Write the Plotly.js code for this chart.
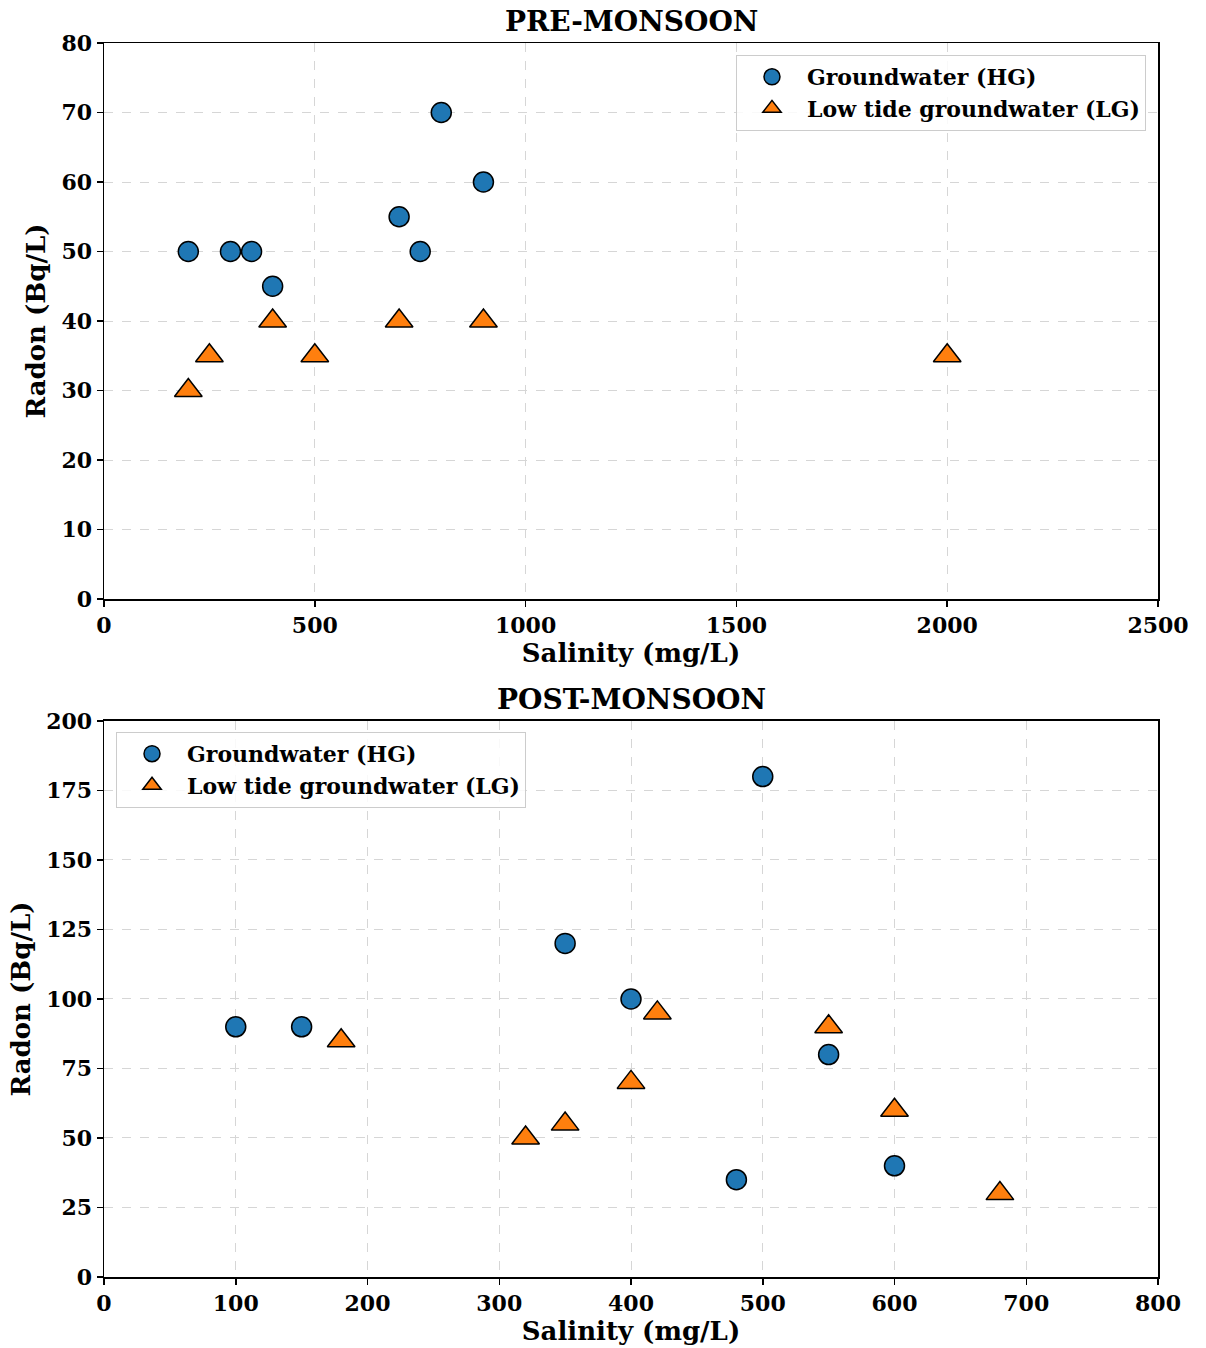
<!DOCTYPE html>
<html>
<head>
<meta charset="utf-8">
<script src="https://cdn.plot.ly/plotly-3.0.1.min.js"></script>
<style>html,body{margin:0;padding:0;background:#fff;}#chart{width:1206px;height:1348px;}</style>
</head>
<body>
<div id="chart"></div>
<script>
// PRE-MONSOON
const preHG_x = [200, 300, 350, 400, 700, 750, 800, 900];
const preHG_y = [50, 50, 50, 45, 55, 50, 70, 60];
const preLG_x = [200, 250, 400, 500, 700, 900, 2000];
const preLG_y = [30, 35, 40, 35, 40, 40, 35];
// POST-MONSOON
const postHG_x = [100, 150, 350, 400, 480, 500, 550, 600];
const postHG_y = [90, 90, 120, 100, 35, 180, 80, 40];
const postLG_x = [180, 320, 350, 400, 420, 550, 600, 680];
const postLG_y = [85, 50, 55, 70, 95, 90, 60, 30];

const nameHG = 'Groundwater (HG)';
const nameLG = 'Low tide groundwater (LG)';
const titles = ['PRE-MONSOON', 'POST-MONSOON'];
const xTitle = 'Salinity (mg/L)';
const yTitle = 'Radon (Bq/L)';

const FAM = 'DejaVu Serif, serif';
const blue = '#1f77b4', orange = '#ff7f0e';

function hg(x, y, xa, ya, lg) {
  return {x, y, xaxis: xa, yaxis: ya, type: 'scatter', mode: 'markers', name: nameHG, legend: lg,
    marker: {symbol: 'circle', size: 20, color: blue, line: {color: '#000', width: 1.5}}};
}
function lgT(x, y, xa, ya, lg) {
  return {x, y, xaxis: xa, yaxis: ya, type: 'scatter', mode: 'markers', name: nameLG, legend: lg,
    marker: {symbol: 'triangle-up', size: 24, color: orange, line: {color: '#000', width: 1.5}}};
}

const data = [
  hg(preHG_x, preHG_y, 'x', 'y', 'legend'),
  lgT(preLG_x, preLG_y, 'x', 'y', 'legend'),
  hg(postHG_x, postHG_y, 'x2', 'y2', 'legend2'),
  lgT(postLG_x, postLG_y, 'x2', 'y2', 'legend2')
];

const tickFont = {family: FAM, size: 22, color: '#000', weight: 'bold'};
const titleFont = {family: FAM, size: 26, color: '#000', weight: 'bold'};
function ax(extra) {
  return Object.assign({
    showline: true, mirror: true, linecolor: '#000', linewidth: 1.5,
    ticks: 'outside', ticklen: 6, tickwidth: 1.5, tickcolor: '#000',
    showgrid: true, gridcolor: '#d6d6d6', griddash: 'dash', gridwidth: 1,
    zeroline: false, tickfont: tickFont
  }, extra);
}
const legendStyle = {
  font: {family: FAM, size: 22, color: '#000', weight: 'bold'},
  bgcolor: 'rgba(255,255,255,0.85)', bordercolor: '#cccccc', borderwidth: 1,
  itemsizing: 'trace', itemwidth: 60, tracegroupgap: 0
};

const layout = {
  width: 1206, height: 1348,
  margin: {l: 104, r: 48, t: 43, b: 71},
  paper_bgcolor: '#fff', plot_bgcolor: '#fff',
  showlegend: true,
  xaxis: ax({domain: [0, 1], anchor: 'y', range: [0, 2500], tickvals: [0, 500, 1000, 1500, 2000, 2500],
    title: {text: xTitle, font: titleFont, standoff: 6}}),
  yaxis: ax({domain: [0.5494, 1], anchor: 'x', range: [0, 80], tickvals: [0, 10, 20, 30, 40, 50, 60, 70, 80],
    title: {text: yTitle, font: titleFont, standoff: 8}}),
  xaxis2: ax({domain: [0, 1], anchor: 'y2', range: [0, 800], tickvals: [0, 100, 200, 300, 400, 500, 600, 700, 800],
    title: {text: xTitle, font: titleFont, standoff: 6}}),
  yaxis2: ax({domain: [0, 0.4506], anchor: 'x2', range: [0, 200], tickvals: [0, 25, 50, 75, 100, 125, 150, 175, 200],
    title: {text: yTitle, font: titleFont, standoff: 8}}),
  legend: Object.assign({x: 0.9886, y: 0.9903, xanchor: 'right', yanchor: 'top', xref: 'paper', yref: 'paper'}, legendStyle),
  legend2: Object.assign({x: 0.0114, y: 0.4417, xanchor: 'left', yanchor: 'top', xref: 'paper', yref: 'paper'}, legendStyle),
  annotations: [
    {text: titles[0], xref: 'paper', yref: 'paper', x: 0.5, y: 1, yshift: 3, yanchor: 'bottom', showarrow: false,
      font: {family: FAM, size: 28, color: '#000', weight: 'bold'}},
    {text: titles[1], xref: 'paper', yref: 'paper', x: 0.5, y: 0.4506, yshift: 3, yanchor: 'bottom', showarrow: false,
      font: {family: FAM, size: 28, color: '#000', weight: 'bold'}}
  ]
};

Plotly.newPlot('chart', data, layout, {displayModeBar: false, staticPlot: true});
</script>
</body>
</html>
